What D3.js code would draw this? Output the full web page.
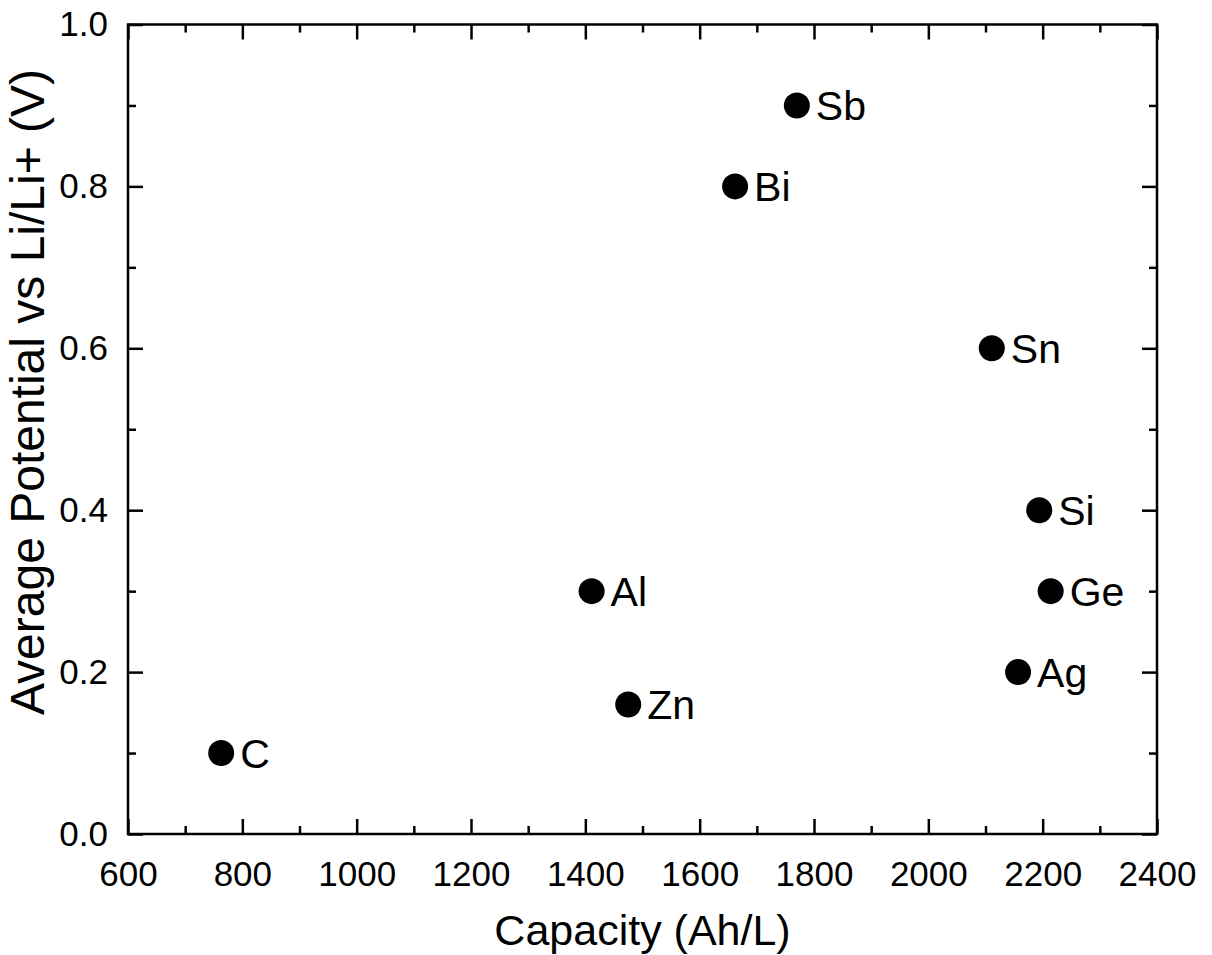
<!DOCTYPE html>
<html>
<head>
<meta charset="utf-8">
<script src="https://cdn.jsdelivr.net/npm/d3@7"></script>
<style>
  html, body { margin: 0; padding: 0; background: #fff; }
  svg { display: block; font-family: "Liberation Sans", Arial, sans-serif; }
</style>
</head>
<body>
<svg id="chart" width="1212" height="955"></svg>
<script>
// Anode materials: volumetric capacity vs average lithiation potential
const elements   = ["C", "Al", "Zn", "Bi", "Sb", "Sn", "Si", "Ge", "Ag"];
const capacity   = [763, 1411, 1475, 1662, 1770, 2111, 2194, 2214, 2157];
const potential  = [0.10, 0.30, 0.16, 0.80, 0.90, 0.60, 0.40, 0.30, 0.20];

const xTicks = [600, 800, 1000, 1200, 1400, 1600, 1800, 2000, 2200, 2400];
const yTicks = [0.0, 0.2, 0.4, 0.6, 0.8, 1.0];
const xTitle = "Capacity (Ah/L)";
const yTitle = "Average Potential vs Li/Li+ (V)";

const W = 1212, H = 955;
const m = { left: 128, top: 24.5, right: W - 1157, bottom: H - 834 };
const iw = W - m.left - m.right, ih = H - m.top - m.bottom;

const svg = d3.select("#chart");
const g = svg.append("g").attr("transform", `translate(${m.left},${m.top})`);

const x = d3.scaleLinear().domain([600, 2400]).range([0, iw]);
const y = d3.scaleLinear().domain([0, 1]).range([ih, 0]);

const xMinor = d3.range(700, 2400, 200);
const yMinor = d3.range(0.1, 1.0, 0.2);

const majorLen = 15, minorLen = 8, stroke = 2.5;

function styleAxis(sel) {
  sel.select(".domain").remove();
  sel.selectAll(".tick line").attr("stroke", "#000").attr("stroke-width", stroke);
  sel.selectAll(".tick text").attr("fill", "#000");
}

// Bottom axis with labels (ticks point inward)
g.append("g").attr("transform", `translate(0,${ih})`)
  .call(d3.axisBottom(x).tickValues(xTicks).tickSize(-majorLen).tickPadding(majorLen + 12).tickFormat(d3.format("d")))
  .call(styleAxis)
  .call(s => s.selectAll(".tick text").attr("font-size", 35));
g.append("g").attr("transform", `translate(0,${ih})`)
  .call(d3.axisBottom(x).tickValues(xMinor).tickSize(-minorLen).tickFormat(""))
  .call(styleAxis);

// Top axis (ticks only)
g.append("g")
  .call(d3.axisTop(x).tickValues(xTicks).tickSize(-majorLen).tickFormat(""))
  .call(styleAxis);
g.append("g")
  .call(d3.axisTop(x).tickValues(xMinor).tickSize(-minorLen).tickFormat(""))
  .call(styleAxis);

// Left axis with labels
g.append("g")
  .call(d3.axisLeft(y).tickValues(yTicks).tickSize(-majorLen).tickPadding(majorLen + 5).tickFormat(d3.format(".1f")))
  .call(styleAxis)
  .call(s => s.selectAll(".tick text").attr("font-size", 35));
g.append("g")
  .call(d3.axisLeft(y).tickValues(yMinor).tickSize(-minorLen).tickFormat(""))
  .call(styleAxis);

// Right axis (ticks only)
g.append("g").attr("transform", `translate(${iw},0)`)
  .call(d3.axisRight(y).tickValues(yTicks).tickSize(-majorLen).tickFormat(""))
  .call(styleAxis);
g.append("g").attr("transform", `translate(${iw},0)`)
  .call(d3.axisRight(y).tickValues(yMinor).tickSize(-minorLen).tickFormat(""))
  .call(styleAxis);

// Frame
g.append("rect").attr("width", iw).attr("height", ih)
  .attr("fill", "none").attr("stroke", "#000").attr("stroke-width", stroke);

// Points and labels
const data = elements.map((e, i) => ({ name: e, cap: capacity[i], pot: potential[i] }));
const pts = g.append("g").selectAll("g").data(data).join("g")
  .attr("transform", d => `translate(${x(d.cap)},${y(d.pot)})`);
pts.append("circle").attr("r", 13).attr("fill", "#000");
pts.append("text").attr("x", 19).attr("y", 15)
  .attr("font-size", 41).attr("fill", "#000").text(d => d.name);

// Axis titles
svg.append("text")
  .attr("x", m.left + iw / 2).attr("y", 945)
  .attr("text-anchor", "middle").attr("font-size", 43).attr("fill", "#000")
  .text(xTitle);
svg.append("text")
  .attr("transform", `translate(44,392) rotate(-90)`)
  .attr("text-anchor", "middle").attr("font-size", 48).attr("fill", "#000")
  .text(yTitle);
</script>
</body>
</html>
